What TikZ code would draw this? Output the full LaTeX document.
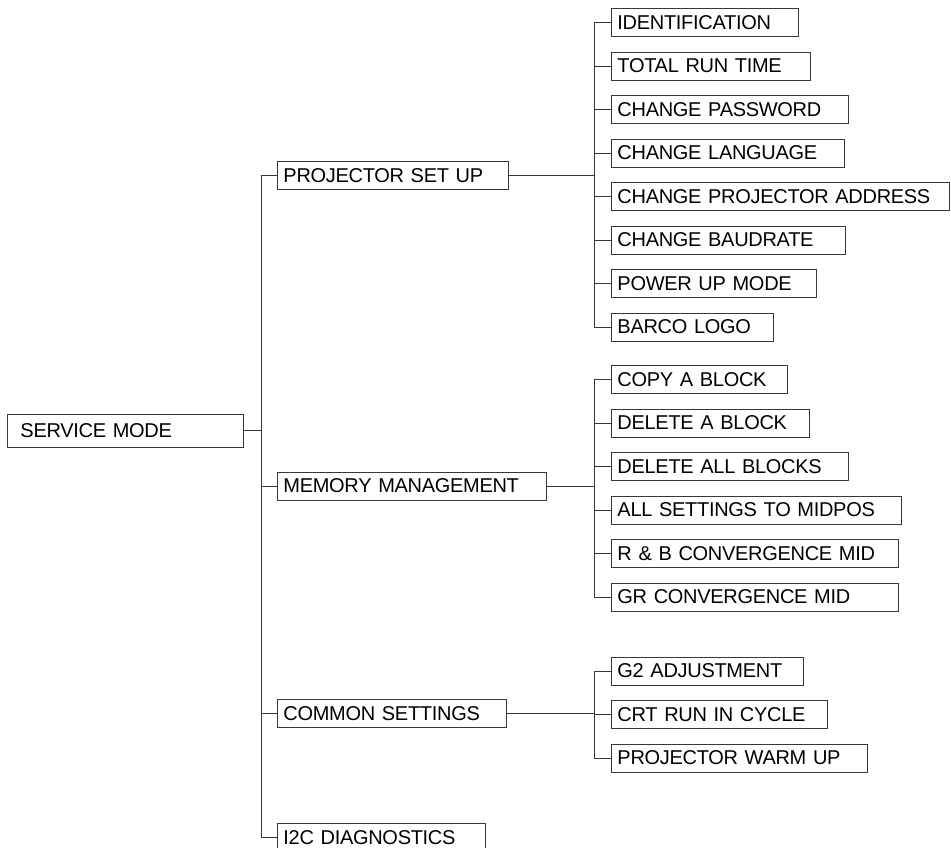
\documentclass[tikz,border=0pt]{standalone}
\usepackage{fontspec}
\usepackage{tikz}
\usetikzlibrary{positioning, calc}
\newfontfamily\menufont[LetterSpace=-1.5]{Liberation Sans}
\protected\def\menustyle{\menufont\fontsize{20}{22}\selectfont\spaceskip=3pt plus 1pt\relax}
\definecolor{mygray}{RGB}{55,55,55}
\tikzset{
  menubox/.style={rectangle, draw=mygray, anchor=west, align=left,
    inner xsep=6pt, inner ysep=0pt, minimum height=28pt,
    font=\menustyle, line width=0.9pt},
  line/.style={line width=0.9pt, color=mygray}
}
\begin{document}
\begin{tikzpicture}[x=1pt, y=-1pt]
  \useasboundingbox (0,0) rectangle (951,848);

  % root
  \node[menubox, text width=210pt, inner xsep=13pt, minimum height=33pt] (svc) at (7,430.5) {SERVICE MODE};

  % main menus
  \node[menubox, text width=219pt] (setup) at (277,175.5) {PROJECTOR SET UP};
  \node[menubox, text width=257pt] (mem) at (277,486) {MEMORY MANAGEMENT};
  \node[menubox, text width=217pt] (common) at (277,713.5) {COMMON SETTINGS};
  \node[menubox, text width=196pt] (i2c) at (277,837.5) {I2C DIAGNOSTICS};

  % projector set up
  \node[menubox, text width=175pt] (ident) at (611,22.5) {IDENTIFICATION};
  \node[menubox, text width=187pt] (runtime) at (611,66) {TOTAL RUN TIME};
  \node[menubox, text width=225pt] (passwd) at (611,109.5) {CHANGE PASSWORD};
  \node[menubox, text width=221pt] (lang) at (611,153) {CHANGE LANGUAGE};
  \node[menubox, text width=326pt] (addr) at (611,196.5) {CHANGE PROJECTOR ADDRESS};
  \node[menubox, text width=222pt] (baud) at (611,240) {CHANGE BAUDRATE};
  \node[menubox, text width=193pt] (powerup) at (611,283.5) {POWER UP MODE};
  \node[menubox, text width=150pt] (logo) at (611,327) {BARCO LOGO};

  % memory management
  \node[menubox, text width=164pt] (copy) at (611,379.5) {COPY A BLOCK};
  \node[menubox, text width=186pt] (delone) at (611,423) {DELETE A BLOCK};
  \node[menubox, text width=225pt] (delall) at (611,466.5) {DELETE ALL BLOCKS};
  \node[menubox, text width=278pt] (midpos) at (611,510) {ALL SETTINGS TO MIDPOS};
  \node[menubox, text width=275pt] (rbconv) at (611,553.5) {R \& B CONVERGENCE MID};
  \node[menubox, text width=275pt] (grconv) at (611,597) {GR CONVERGENCE MID};

  % common settings
  \node[menubox, text width=180pt] (gtwo) at (611,671) {G2 ADJUSTMENT};
  \node[menubox, text width=204pt] (crt) at (611,714.5) {CRT RUN IN CYCLE};
  \node[menubox, text width=244pt] (warm) at (611,758) {PROJECTOR WARM UP};

  % trunks
  \coordinate (ta) at (261,0);
  \coordinate (tb) at (594,0);

  \draw[line] (svc.east) -- (svc.east -| ta);
  \draw[line] (setup.west) -- (setup.west -| ta) -- (i2c.west -| ta) -- (i2c.west);
  \draw[line] (mem.west) -- (mem.west -| ta);
  \draw[line] (common.west) -- (common.west -| ta);

  % projector set up branch
  \draw[line] (setup.east) -- (setup.east -| tb);
  \draw[line] (ident.west) -- (ident.west -| tb) -- (logo.west -| tb) -- (logo.west);
  \draw[line] (runtime.west) -- (runtime.west -| tb);
  \draw[line] (passwd.west) -- (passwd.west -| tb);
  \draw[line] (lang.west) -- (lang.west -| tb);
  \draw[line] (addr.west) -- (addr.west -| tb);
  \draw[line] (baud.west) -- (baud.west -| tb);
  \draw[line] (powerup.west) -- (powerup.west -| tb);

  % memory management branch
  \draw[line] (mem.east) -- (mem.east -| tb);
  \draw[line] (copy.west) -- (copy.west -| tb) -- (grconv.west -| tb) -- (grconv.west);
  \draw[line] (delone.west) -- (delone.west -| tb);
  \draw[line] (delall.west) -- (delall.west -| tb);
  \draw[line] (midpos.west) -- (midpos.west -| tb);
  \draw[line] (rbconv.west) -- (rbconv.west -| tb);

  % common settings branch
  \draw[line] (common.east) -- (common.east -| tb);
  \draw[line] (gtwo.west) -- (gtwo.west -| tb) -- (warm.west -| tb) -- (warm.west);
  \draw[line] (crt.west) -- (crt.west -| tb);
\end{tikzpicture}
\end{document}
